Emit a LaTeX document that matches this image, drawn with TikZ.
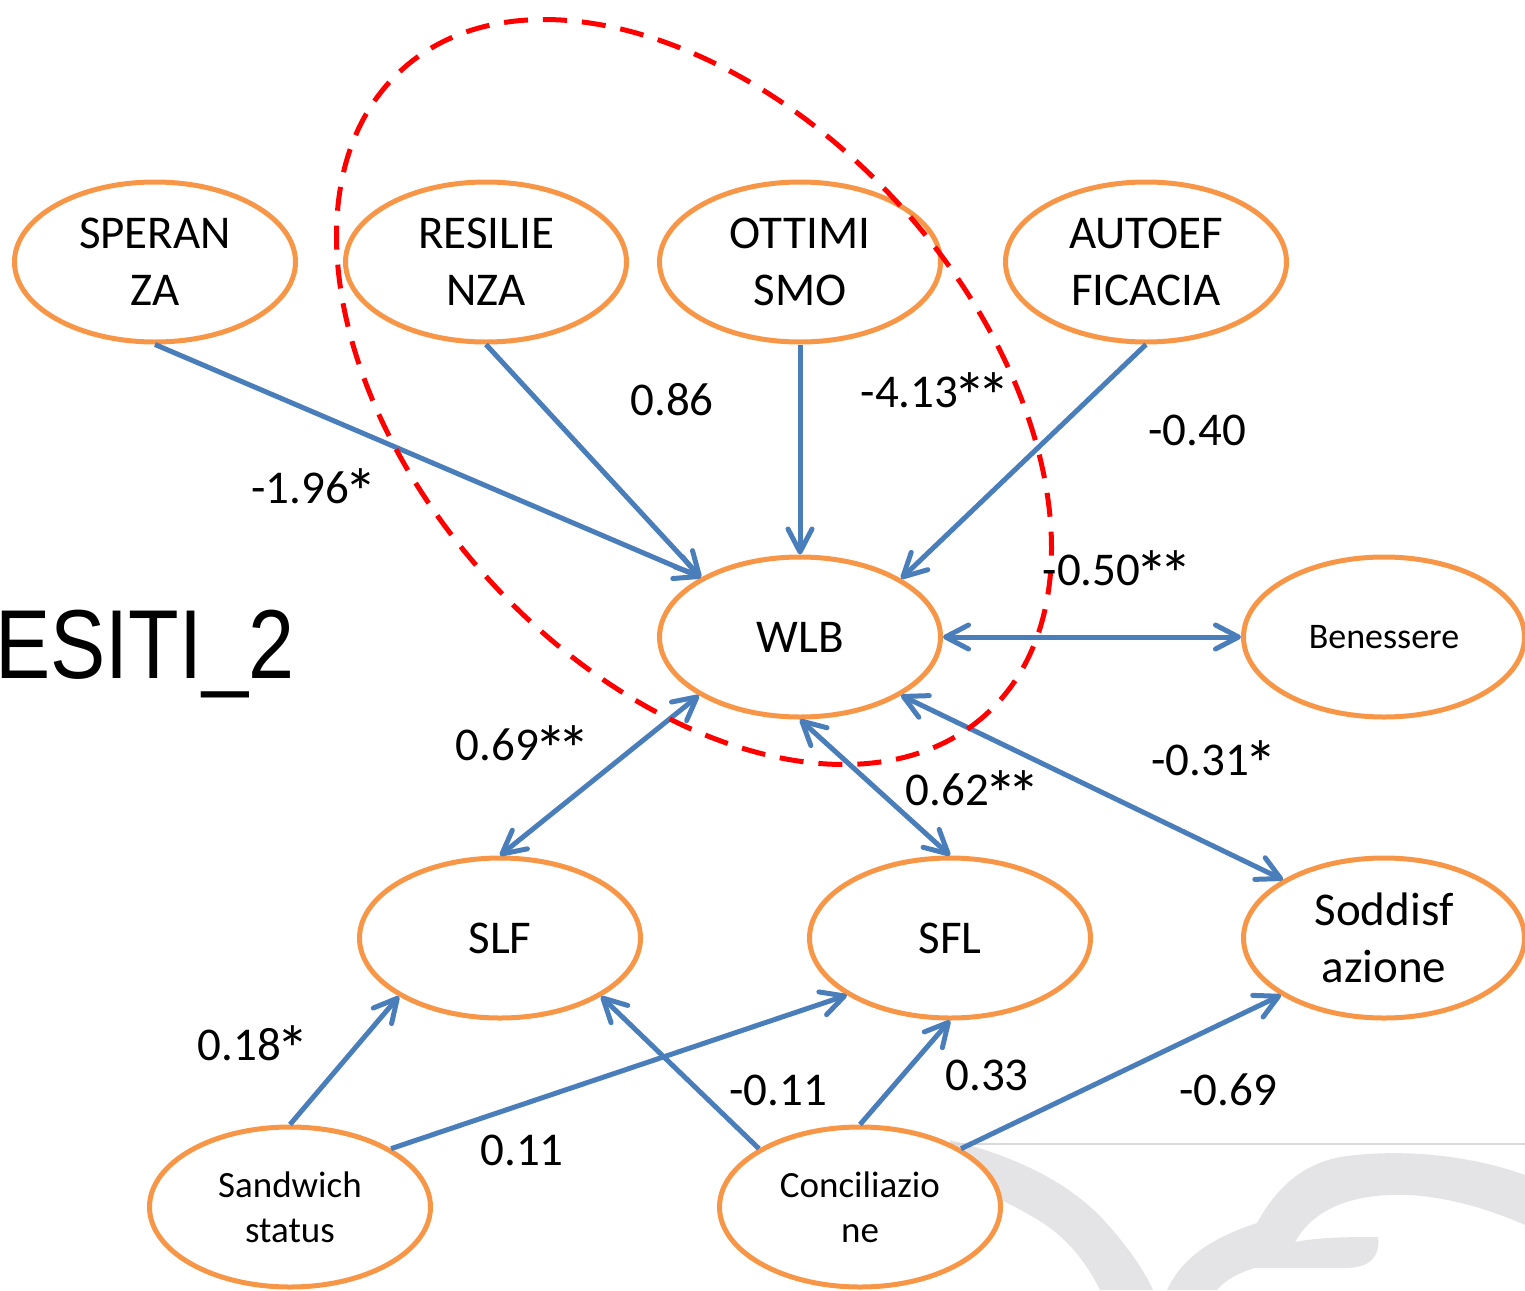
\documentclass[tikz,border=0pt]{standalone}
\usepackage{fontspec}
\setmainfont{Carlito}
\newfontfamily\arialfont[FakeStretch=0.845]{Liberation Sans}
\usetikzlibrary{arrows.meta,shapes.geometric}
\definecolor{nodeorange}{HTML}{F79646}
\definecolor{linkblue}{HTML}{4A7EBB}
\definecolor{wmgrey}{HTML}{E4E4E6}
\definecolor{rulegrey}{HTML}{D9D9D9}
\newcommand\bst{\makebox[23.4pt]{\raisebox{-12pt}[0pt][0pt]{\fontsize{66}{66}\selectfont *}}}
\tikzset{
  tipb/.tip={Straight Barb[length=23pt,width=24pt,round]},
  var/.style={ellipse, draw=nodeorange, line width=5pt, fill=white,
    minimum width=281pt, minimum height=160pt, inner sep=0pt, align=center,
    font=\fontsize{47}{57}\selectfont},
  smallvar/.style={var, font=\fontsize{37}{45}\selectfont},
  benvar/.style={var, font=\fontsize{36}{44}\selectfont},
  arr/.style={-tipb, draw=linkblue, line width=5pt},
  biarr/.style={tipb-tipb, draw=linkblue, line width=5pt},
  lab/.style={inner sep=0pt, font=\fontsize{47}{57}\selectfont},
  group/.style={draw=red, line width=5pt, dash pattern=on 24pt off 15pt}
}
\begin{document}
\begin{tikzpicture}[x=1pt,y=-1pt]
\useasboundingbox (0,0) rectangle (1525,1290);
\clip (0,0) rectangle (1525,1290);
% background watermark
\fill[wmgrey] (950,1140) .. controls (1010,1155) and (1070,1180) .. (1110,1227)
  .. controls (1130,1250) and (1145,1272) .. (1153,1290)
  -- (1100,1290) .. controls (1085,1260) and (1065,1235) .. (1033,1217)
  .. controls (1010,1203) and (980,1190) .. (950,1180) -- cycle;
\fill[wmgrey] (1167,1290) .. controls (1180,1262) and (1205,1240) .. (1257,1223)
  .. controls (1275,1190) and (1300,1165) .. (1340,1157)
  .. controls (1400,1148) and (1470,1155) .. (1525,1175)
  -- (1525,1225) .. controls (1480,1205) and (1430,1193) .. (1390,1195)
  .. controls (1340,1197) and (1310,1215) .. (1295,1242)
  .. controls (1320,1237) and (1350,1237) .. (1378,1237)
  .. controls (1380,1255) and (1372,1268) .. (1345,1268)
  -- (1255,1268) .. controls (1240,1272) and (1225,1280) .. (1217,1290) -- cycle;
\draw[rulegrey, line width=2pt] (940,1144) -- (1525,1144);
% title
\node[anchor=base west, inner sep=0pt, font=\arialfont\fontsize{98}{110}\selectfont] (title) at (-5,678) {ESITI\_2};
% nodes
\node[var] (spe) at (155,262) {SPERAN\\ZA};
\node[var] (res) at (486,262) {RESILIE\\NZA};
\node[var] (ott) at (800,262) {OTTIMI\\SMO};
\node[var] (aut) at (1146,262) {AUTOEF\\FICACIA};
\node[var] (wlb) at (800,637) {WLB};
\node[benvar] (ben) at (1384,637) {Benessere};
\node[var] (slf) at (500,938) {SLF};
\node[var] (sfl) at (950,938) {SFL};
\node[var] (sod) at (1384,938) {Soddisf\\azione};
\node[smallvar] (san) at (290,1207) {Sandwich\\status};
\node[smallvar] (con) at (860,1207) {Conciliazio\\ne};
% connectors
\draw[arr] (spe.south) -- (wlb.149.5);
\draw[arr] (res.south) -- (wlb.149.5);
\draw[arr] (ott.south) -- (wlb.north);
\draw[arr] (aut.south) -- (wlb.30);
\draw[biarr] (wlb.east) -- (ben.west);
\draw[biarr] (wlb.210) -- (slf.north);
\draw[biarr] (wlb.south) -- (sfl.north);
\draw[biarr] (wlb.330) -- (sod.150);
\draw[arr] (san.north) -- (slf.210);
\draw[arr] (san.30) -- (sfl.209);
\draw[arr] (con.150) -- (slf.330);
\draw[arr] (con.north) -- (sfl.south);
\draw[arr] (con.30) -- (sod.209);
% dashed group
\draw[group, rotate around={-47.8:(694,392)}] (694,392) ellipse [x radius=435, y radius=278];
% labels
\node[lab] (l1) at (312,488) {-1.96\bst};
\node[lab] (l2) at (672,400) {0.86};
\node[lab] (l3) at (933,392) {-4.13\bst\bst};
\node[lab] (l4) at (1197,430) {-0.40};
\node[lab] (l5) at (1115,570) {-0.50\bst\bst};
\node[lab] (l6) at (521,745) {0.69\bst\bst};
\node[lab] (l7) at (971,790) {0.62\bst\bst};
\node[lab] (l8) at (1212,760) {-0.31\bst};
\node[lab] (l9) at (251,1045) {0.18\bst};
\node[lab] (l10) at (522,1150) {0.11};
\node[lab] (l11) at (778,1090) {-0.11};
\node[lab] (l12) at (987,1075) {0.33};
\node[lab] (l13) at (1228,1090) {-0.69};
\end{tikzpicture}
\end{document}
